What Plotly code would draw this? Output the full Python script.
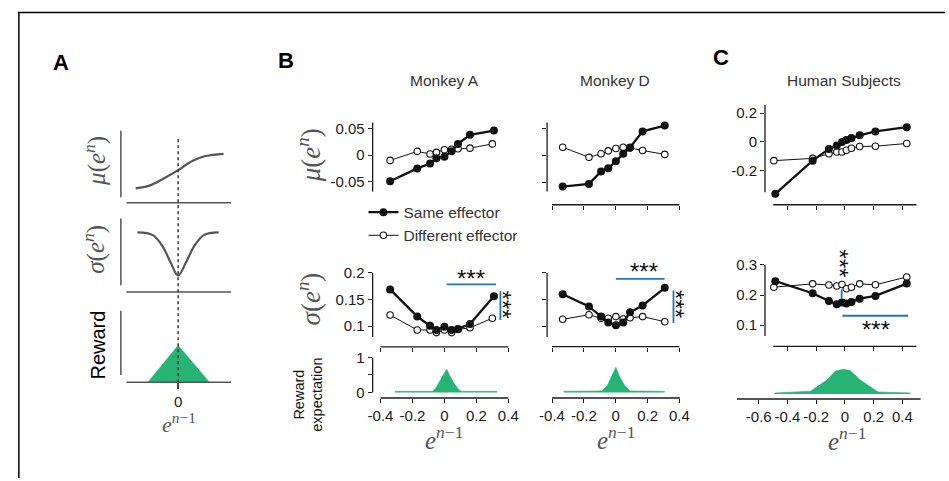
import plotly.graph_objects as go

W, H = 949, 481


def fx(p):
    return p / W


def fy(p):
    return 1 - p / H


# ---------------- data ----------------
# Panel A (schematic curves)
a_mu_x = [-0.811, -0.547, -0.294, 0.0, 0.272, 0.523, 0.868]
a_mu_y = [0.134, 0.174, 0.273, 0.407, 0.545, 0.619, 0.653]
a_sig_x = [-0.779, -0.483, -0.294, -0.138, 0.0, 0.145, 0.302, 0.491, 0.774]
a_sig_y = [0.792, 0.752, 0.579, 0.332, 0.144, 0.332, 0.579, 0.752, 0.792]
a_rew_x = [-0.577, 0.0, 0.598]
a_rew_y = [0.0, 0.516, 0.0]

# Panel B, Monkey A
ba_x_same = [-0.34, -0.17, -0.09, -0.05, 0.0, 0.045, 0.085, 0.16, 0.31]
ba_x_diff = [-0.34, -0.17, -0.09, -0.05, 0.0, 0.045, 0.085, 0.16, 0.30]
ba_mu_same = [-0.049, -0.025, -0.016, -0.006, -0.003, 0.007, 0.021, 0.038, 0.046]
ba_mu_diff = [-0.010, 0.007, 0.002, 0.005, 0.010, 0.011, 0.012, 0.013, 0.021]
ba_sig_same = [0.169, 0.118, 0.101, 0.093, 0.099, 0.093, 0.095, 0.104, 0.156]
ba_sig_diff = [0.121, 0.093, 0.093, 0.088, 0.093, 0.088, 0.094, 0.097, 0.115]
ba_rew_x = [-0.31, -0.2, -0.1, -0.074, -0.054, -0.023, 0.004, 0.014, 0.029, 0.06, 0.091, 0.107, 0.2, 0.33]
ba_rew_y = [0.03, 0.03, 0.03, 0.03, 0.12, 0.36, 0.59, 0.67, 0.52, 0.26, 0.07, 0.03, 0.03, 0.03]

# Panel B, Monkey D
bd_x = [-0.333, -0.168, -0.092, -0.047, 0.001, 0.047, 0.09, 0.169, 0.308]
bd_mu_same = [-0.0585, -0.0535, -0.030, -0.024, -0.011, 0.003, 0.015, 0.045, 0.056]
bd_mu_diff = [0.0153, -0.0037, 0.003, 0.0085, 0.013, 0.0153, 0.014, 0.0092, 0.0018]
bd_sig_same = [0.160, 0.137, 0.118, 0.107, 0.102, 0.107, 0.126, 0.139, 0.172]
bd_sig_diff = [0.113, 0.1215, 0.115, 0.115, 0.118, 0.1135, 0.116, 0.118, 0.1085]
bd_rew_x = [-0.327, -0.2, -0.086, -0.05, -0.024, 0.001, 0.023, 0.053, 0.09, 0.2, 0.307]
bd_rew_y = [0.03, 0.03, 0.04, 0.22, 0.47, 0.72, 0.47, 0.22, 0.04, 0.03, 0.03]

# Panel C, Human subjects
c_x_same = [-0.485, -0.225, -0.112, -0.057, -0.021, 0.010, 0.045, 0.102, 0.212, 0.430]
c_x_diff = [-0.495, -0.225, -0.112, -0.057, -0.021, 0.010, 0.045, 0.102, 0.212, 0.430]
c_mu_same = [-0.364, -0.132, -0.050, -0.026, -0.001, 0.012, 0.026, 0.045, 0.072, 0.102]
c_mu_diff = [-0.132, -0.116, -0.084, -0.072, -0.072, -0.059, -0.045, -0.033, -0.031, -0.012]
c_sig_same = [0.246, 0.206, 0.180, 0.169, 0.175, 0.172, 0.177, 0.188, 0.197, 0.238]
c_sig_diff = [0.226, 0.237, 0.233, 0.230, 0.235, 0.221, 0.226, 0.237, 0.234, 0.260]
c_rew_x = [-0.49, -0.24, -0.124, -0.067, -0.009, 0.036, 0.105, 0.23, 0.455]
c_rew_y = [0.03, 0.08, 0.40, 0.65, 0.70, 0.66, 0.40, 0.06, 0.03]

# tick labels
b_mu_ticks = [-0.05, 0, 0.05]
b_mu_text = ['-0.05', '0', '0.05']
b_sig_ticks = [0.1, 0.15, 0.2]
b_sig_text = ['0.1', '0.15', '0.2']
b_x_ticks = [-0.4, -0.2, 0, 0.2, 0.4]
b_x_text = ['-0.4', '-0.2', '0', '0.2', '0.4']
c_mu_ticks = [-0.2, 0, 0.2]
c_mu_text = ['-0.2', '0', '0.2']
c_sig_ticks = [0.1, 0.2, 0.3]
c_sig_text = ['0.1', '0.2', '0.3']
c_x_ticks = [-0.4, -0.2, 0, 0.2, 0.4]
c_rx_ticks = [-0.6, -0.4, -0.2, 0, 0.2, 0.4]
c_rx_text = ['-0.6', '-0.4', '-0.2', '0', '0.2', '0.4']
rew_ticks = [0, 0.5, 1]
rew_text = ['0', '', '1']

# ---------------- styles ----------------
SANS = 'Liberation Sans, Arial, sans-serif'
SERIF = 'Liberation Serif, DejaVu Serif, serif'
AX = '#1a1a1a'
GREY = '#555555'
GREEN = '#26b374'
BLUE = '#2176b8'
TICKFONT = dict(family=SANS, size=15, color='#1a1a1a')

layout_axes = {}
shapes = []


def pline(x0, y0, x1, y1, color, width, dash=None):
    d = dict(type='line', xref='paper', yref='paper', x0=fx(x0), y0=fy(y0), x1=fx(x1), y1=fy(y1),
             line=dict(color=color, width=width))
    if dash:
        d['line']['dash'] = dash
    shapes.append(d)


def ref(i):
    return ('x' if i == 1 else f'x{i}', 'y' if i == 1 else f'y{i}')


def tick_opts(vals, text, color, lw, ticklen):
    if vals is None:
        return dict(ticks='', showticklabels=False)
    d = dict(tickmode='array', tickvals=vals, ticks='outside', ticklen=ticklen,
             tickwidth=lw, tickcolor=color)
    if text is None:
        d['showticklabels'] = False
    else:
        d['ticktext'] = text
    return d


def subplot(i, xdom, zx, kx, ydom, ry_px, ry_val, ky,
            xline=None, yline=None, xt=None, xtt=None, yt=None, ytt=None,
            color=AX, lw=1.3, ticklen=4, show_x=True, show_y=True):
    """Domains in reference pixels. x: px = zx + v*kx ; y: px = ry_px - (v - ry_val)*ky.
    xline = (y_px, x_from, x_to), yline = (x_px, y_from, y_to): detached axis-line segments."""
    xr, yr = ref(i)
    xa = dict(domain=[fx(xdom[0]), fx(xdom[1])],
              range=[(xdom[0] - zx) / kx, (xdom[1] - zx) / kx],
              anchor=yr, showline=False, showgrid=False, zeroline=False, fixedrange=True,
              visible=show_x, tickfont=TICKFONT, **tick_opts(xt, xtt, color, lw, ticklen))
    ya = dict(domain=[fy(ydom[1]), fy(ydom[0])],
              range=[ry_val + (ry_px - ydom[1]) / ky, ry_val + (ry_px - ydom[0]) / ky],
              anchor=xr, showline=False, showgrid=False, zeroline=False, fixedrange=True,
              visible=show_y, tickfont=TICKFONT, **tick_opts(yt, ytt, color, lw, ticklen))
    layout_axes['xaxis' if i == 1 else f'xaxis{i}'] = xa
    layout_axes['yaxis' if i == 1 else f'yaxis{i}'] = ya
    if xline:
        pline(xline[1], xline[0], xline[2], xline[0], color, lw)
    if yline:
        pline(yline[0], yline[1], yline[0], yline[2], color, lw)


# Panel A
subplot(1, (114.3, 232), 172.3, 53, (123, 202.3), 196.7, 0, 67.4,
        xline=(202.3, 120, 226), yline=(114.3, 129.3, 196.7), color=GREY, lw=1.5)
subplot(2, (114.3, 232), 172.3, 53, (212, 292.7), 285.7, 0, 67.4,
        xline=(292.7, 120, 226), yline=(114.3, 218.3, 285.7), color=GREY, lw=1.5)
subplot(3, (114.3, 232), 172.3, 53, (305, 384), 384, 0, 72.3,
        xline=(384, 120, 226), yline=(114.3, 311.7, 376.7), xt=[0], xtt=['0'],
        color=GREY, lw=1.5, ticklen=6)

# Panel B - Monkey A
subplot(4, (369.3, 513), 442, 161.75, (115, 204.3), 154, 0, 540,
        yline=(369.3, 121, 191), yt=b_mu_ticks, ytt=b_mu_text, show_x=False)
subplot(5, (369.3, 513), 442, 161.75, (267, 348.3), 327.3, 0.1, 540,
        xline=(348.3, 377.3, 506.7), yline=(369.3, 273.3, 338.3),
        xt=b_x_ticks, yt=b_sig_ticks, ytt=b_sig_text)
subplot(6, (369.3, 513), 442, 161.75, (353, 400), 394.3, 0, 35.3,
        xline=(400, 377.3, 506.7), yline=(369.3, 359, 394.3),
        xt=b_x_ticks, xtt=b_x_text, yt=rew_ticks, ytt=rew_text)

# Panel B - Monkey D
subplot(7, (546, 687), 615.5, 161.25, (115, 204.3), 154.3, 0, 540,
        xline=(204.3, 551, 680), yline=(546, 121, 191), xt=b_x_ticks, yt=b_mu_ticks)
subplot(8, (546, 687), 615.5, 161.25, (267, 348), 327.3, 0.1, 540,
        xline=(348, 551, 680), yline=(546, 273.3, 338.3), xt=b_x_ticks, yt=b_sig_ticks)
subplot(9, (546, 687), 615.5, 161.25, (353, 400), 394.3, 0, 35.3,
        xline=(400, 551, 680.5), xt=b_x_ticks, xtt=b_x_text, show_y=False)

# Panel C - Human
subplot(10, (766.7, 928), 847.7, 145.5, (97, 204.3), 140.5, 0, 145,
        xline=(204.3, 775, 920), yline=(766.7, 103.3, 191.7),
        xt=c_x_ticks, yt=c_mu_ticks, ytt=c_mu_text)
subplot(11, (766.7, 928), 847.7, 145.5, (259, 347.7), 295.7, 0.2, 305,
        xline=(347.7, 775, 920), yline=(766.7, 265, 337.3),
        xt=c_x_ticks, yt=c_sig_ticks, ytt=c_sig_text)
subplot(12, (738.3, 930), 847.7, 145.5, (354, 401), 396, 0, 36,
        xline=(401, 738.3, 924.3), xt=c_rx_ticks, xtt=c_rx_text, show_y=False)

fig = go.Figure()


def add_pair(i, xs, ys, xd, yd, legend=False):
    xr, yr = ref(i)
    fig.add_trace(go.Scatter(
        x=xd, y=yd, xaxis=xr, yaxis=yr, mode='lines+markers', name='Different effector',
        line=dict(color='#111111', width=1),
        marker=dict(size=6.5, color='white', line=dict(color='#111111', width=1.1)),
        showlegend=legend, legendrank=2))
    fig.add_trace(go.Scatter(
        x=xs, y=ys, xaxis=xr, yaxis=yr, mode='lines+markers', name='Same effector',
        line=dict(color='#111111', width=2.3),
        marker=dict(size=8, color='#111111'),
        showlegend=legend, legendrank=1))


def add_reward(i, x, y):
    xr, yr = ref(i)
    fig.add_trace(go.Scatter(
        x=x, y=y, xaxis=xr, yaxis=yr, mode='lines', fill='tozeroy',
        line=dict(color=GREEN, width=0.6), fillcolor=GREEN, showlegend=False))


# Panel A traces
fig.add_trace(go.Scatter(x=a_mu_x, y=a_mu_y, xaxis='x', yaxis='y', mode='lines',
                         line=dict(color=GREY, width=2.2, shape='spline'), showlegend=False))
fig.add_trace(go.Scatter(x=a_sig_x, y=a_sig_y, xaxis='x2', yaxis='y2', mode='lines',
                         line=dict(color=GREY, width=2.2, shape='spline'), showlegend=False))
fig.add_trace(go.Scatter(x=a_rew_x, y=a_rew_y, xaxis='x3', yaxis='y3', mode='lines', fill='toself',
                         line=dict(color=GREEN, width=0.5), fillcolor=GREEN, showlegend=False))

# Panel B / C traces
add_pair(4, ba_x_same, ba_mu_same, ba_x_diff, ba_mu_diff, legend=True)
add_pair(5, ba_x_same, ba_sig_same, ba_x_diff, ba_sig_diff)
add_reward(6, ba_rew_x, ba_rew_y)
add_pair(7, bd_x, bd_mu_same, bd_x, bd_mu_diff)
add_pair(8, bd_x, bd_sig_same, bd_x, bd_sig_diff)
add_reward(9, bd_rew_x, bd_rew_y)
add_pair(10, c_x_same, c_mu_same, c_x_diff, c_mu_diff)
add_pair(11, c_x_same, c_sig_same, c_x_diff, c_sig_diff)
add_reward(12, c_rew_x, c_rew_y)

# ---------------- other shapes ----------------
# frame
pline(10, 9.5, 949, 9.5, '#000000', 1.5)
pline(11, 9, 11, 481, '#000000', 1.5)
# panel A dashed zero line
shapes.append(dict(type='line', xref='x3', yref='paper', x0=0, x1=0, y0=fy(390), y1=fy(135),
                   line=dict(color='#333333', width=1.5, dash='dot')))
# significance bars
pline(444.3, 285, 494.3, 285, BLUE, 1.8)
pline(498.7, 291.7, 498.7, 321, BLUE, 1.8)
pline(615.7, 279.3, 665, 279.3, BLUE, 1.8)
pline(674, 291, 674, 324, BLUE, 1.8)
pline(844.3, 290, 844.3, 299.3, BLUE, 1.8)
pline(845, 316.7, 911.7, 316.7, BLUE, 1.8)

# ---------------- annotations ----------------
anns = []


def ann(text, x, y, size, color='#1a1a1a', family=SANS, angle=0):
    anns.append(dict(text=text, x=fx(x), y=fy(y), xref='paper', yref='paper', showarrow=False,
                     xanchor='center', yanchor='middle', textangle=angle,
                     font=dict(family=family, size=size, color=color)))


ann('<b>A</b>', 53.3, 60, 22, '#000000')
ann('<b>B</b>', 281.7, 58.3, 22, '#000000')
ann('<b>C</b>', 721.7, 55, 22, '#000000')
ann('Monkey A', 441.7, 78.3, 15.5, '#333333')
ann('Monkey D', 615, 78.3, 15.5, '#333333')
ann('Human Subjects', 846.7, 78.3, 15.5, '#333333')

MU = '<i>μ</i>(<i>e</i><sup><i>n</i></sup>)'
SG = '<i>σ</i>(<i>e</i><sup><i>n</i></sup>)'
EN = '<i>e</i><sup><i>n</i>−1</sup>'
ann(MU, 88, 160, 25, GREY, SERIF, -90)
ann(SG, 88, 249, 25, GREY, SERIF, -90)
ann('Reward', 91, 346, 20, '#000000', SANS, -90)
ann(EN, 173, 425, 22, GREY, SERIF)

ann(MU, 305, 154, 27, GREY, SERIF, -90)
ann(SG, 305, 300, 27, GREY, SERIF, -90)
ann('Reward<br>expectation', 303.5, 397, 14.5, '#111111', SANS, -90)
ann(EN, 442, 441, 25, GREY, SERIF)
ann(EN, 616, 441, 25, GREY, SERIF)
ann(EN, 850, 442, 25, GREY, SERIF)

# significance stars
ann('***', 469.3, 279, 24, '#111111')
ann('***', 501, 305, 24, '#111111', SANS, 90)
ann('***', 644, 272, 24, '#111111')
ann('***', 676.7, 305, 24, '#111111', SANS, 90)
ann('***', 842, 264, 24, '#111111', SANS, 90)
ann('***', 879, 331, 24, '#111111')

fig.update_layout(
    width=W, height=H, margin=dict(l=0, r=0, t=0, b=0, pad=0),
    paper_bgcolor='white', plot_bgcolor='rgba(0,0,0,0)',
    shapes=shapes, annotations=anns,
    legend=dict(x=fx(360), y=fy(195), xanchor='left', yanchor='top',
                bgcolor='rgba(255,255,255,0)', font=dict(family=SANS, size=15.5, color='#333333'),
                itemwidth=30, tracegroupgap=0),
    **layout_axes,
)

fig.write_html('out.html', config={'displayModeBar': False})
